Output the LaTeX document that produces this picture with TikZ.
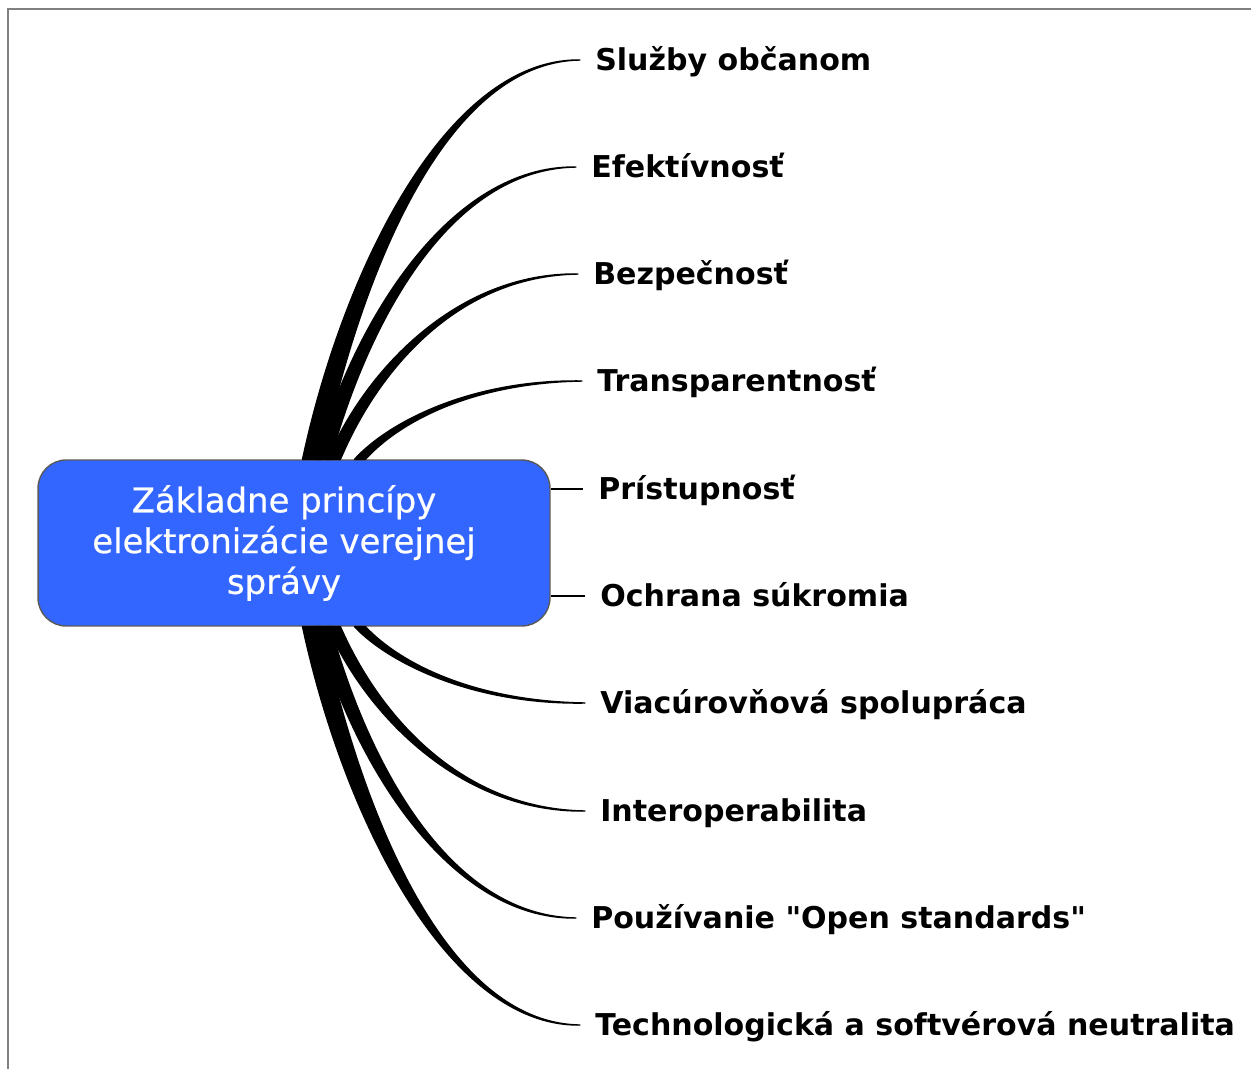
\documentclass[tikz,border=0pt]{standalone}
\usepackage{fontspec}
\setmainfont{DejaVu Sans}
\newfontfamily\rootfont[FakeBold=0.6]{DejaVu Sans}
\usetikzlibrary{calc}
\definecolor{rootblue}{HTML}{3366FF}
\tikzset{
  root/.style={draw=black!65, line width=0.8pt, fill=rootblue, rounded corners=16pt,
    text=white, align=center, minimum width=10.24cm, minimum height=3.32cm,
    font=\rootfont\fontsize{19.3}{23.2}\selectfont},
  leaf/.style={anchor=west, inner xsep=8.5pt, inner ysep=0pt, text height=12.4pt,
    text depth=0pt, font=\bfseries\fontsize{17.1}{20}\selectfont},
  branch/.style={fill=black, draw=black, line width=0.8pt, line join=round},
  twig/.style={draw=black, line width=0.9pt}
}
\begin{document}
\begin{tikzpicture}[x=0.02cm,y=-0.02cm]
\useasboundingbox (0,0) rectangle (1251,1069);
\draw[black!50, line width=1.1pt] (1251,9) -- (8,9) -- (8,1069);

\node[root] (main) at (294,543) {Základne princípy\kern0.4cm\\elektronizácie verejnej\kern0.4cm\\správy\kern0.4cm};

\node[leaf] (l1) at (580,60) {Služby občanom};
\node[leaf] (l2) at (576,167) {Efektívnosť};
\node[leaf] (l3) at (578,274) {Bezpečnosť};
\node[leaf] (l4) at (582,381) {Transparentnosť};
\node[leaf] (l5) at (583,489) {Prístupnosť};
\node[leaf] (l6) at (585,596) {Ochrana súkromia};
\node[leaf] (l7) at (585,703) {Viacúrovňová spolupráca};
\node[leaf] (l8) at (585,811) {Interoperabilita};
\node[leaf] (l9) at (576,918) {Používanie \textquotedbl Open standards\textquotedbl};
\node[leaf] (l10) at (580,1025) {Technologická a softvérová neutralita};

% tapered branches
\foreach \i/\side/\bx/\bw/\s in {1/north/312/19/1, 2/north/323/15/1, 3/north/334/13/1,
    4/north/360/11/1, 7/south/360/11/-1, 8/south/334/13/-1, 9/south/323/15/-1,
    10/south/312/19/-1}
  \path[branch] let \p1=($(main.\side)+(\bx-294,0)$), \p2=(l\i.west) in
    (\x1-\bw*0.2835pt,\y1)
    .. controls ({\x1+0.15*(\x2-\x1)-\bw*0.2835pt},{\y1+0.47*(\y2-\y1)})
    and ({\x1+0.5*(\x2-\x1)},{\y2+\s*1.1pt}) .. (\p2)
    .. controls ({\x1+0.5*(\x2-\x1)},{\y2-\s*1.1pt})
    and ({\x1+0.15*(\x2-\x1)+\bw*0.2835pt},{\y1+0.47*(\y2-\y1)})
    .. (\x1+\bw*0.2835pt,\y1) -- cycle;

\draw[twig] (main.east |- l5.west) -- (l5.west);
\draw[twig] (main.east |- l6.west) -- (l6.west);
\end{tikzpicture}
\end{document}
